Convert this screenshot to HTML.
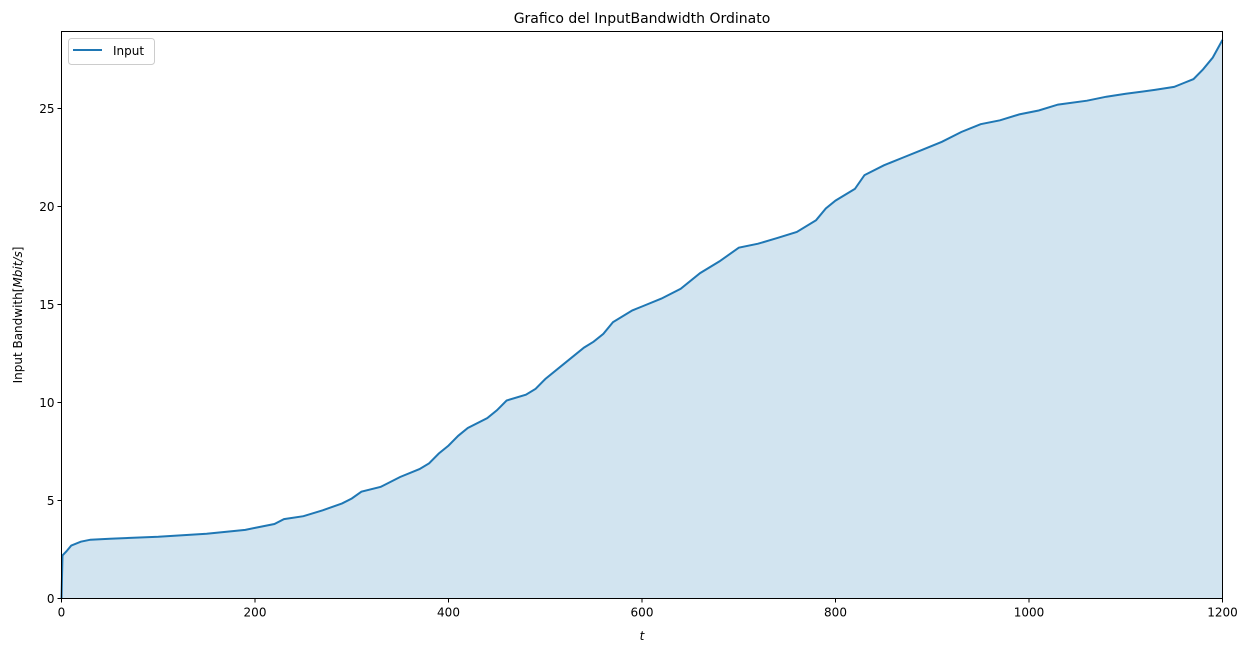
<!DOCTYPE html>
<html><head><meta charset="utf-8"><style>
body{margin:0;background:#fff;}
svg text{font-family:"DejaVu Sans","Liberation Sans",sans-serif;fill:#000;}
</style></head><body>
<svg id="chart" width="1250" height="651" xmlns="http://www.w3.org/2000/svg">
<rect width="1250" height="651" fill="#fff"/>
<text x="642" y="23" font-size="14" text-anchor="middle">Grafico del InputBandwidth Ordinato</text>
<g id="plot"></g>
<text x="642" y="640" font-size="12" font-style="italic" text-anchor="middle">t</text>
<text transform="translate(22,315) rotate(-90)" font-size="12" text-anchor="middle">Input Bandwith[<tspan font-style="italic">Mbit/s</tspan>]</text>
<g>
<rect x="68.5" y="38.5" width="86" height="26" rx="3" fill="#fff" stroke="#ccc"/>
<line x1="73" y1="50" x2="102" y2="50" stroke="#1f77b4" stroke-width="2"/>
<text x="113" y="55" font-size="12">Input</text>
</g>
</svg>
<script>
const tValues=[0,1,5,10,20,30,50,100,150,190,200,220,230,250,270,290,300,310,330,350,370,380,390,400,410,420,440,450,460,480,490,500,520,540,550,560,570,590,600,620,640,660,680,700,720,740,760,780,790,800,820,830,850,870,890,910,930,950,970,990,1010,1030,1060,1080,1100,1130,1150,1160,1170,1180,1190,1200];
const bwValues=[0,2.2,2.4,2.7,2.9,3.0,3.05,3.15,3.3,3.5,3.6,3.8,4.05,4.2,4.5,4.85,5.1,5.45,5.7,6.2,6.6,6.9,7.4,7.8,8.3,8.7,9.2,9.6,10.1,10.4,10.7,11.2,12.0,12.8,13.1,13.5,14.1,14.7,14.9,15.3,15.8,16.6,17.2,17.9,18.1,18.4,18.7,19.3,19.9,20.3,20.9,21.6,22.1,22.5,22.9,23.3,23.8,24.2,24.4,24.7,24.9,25.2,25.4,25.6,25.75,25.95,26.1,26.3,26.5,27.0,27.6,28.5];
const xTicks=[0,200,400,600,800,1000,1200];
const yTicks=[0,5,10,15,20,25];
const L=61.5,R=1222.5,B=598.5,T=31.5;
const X=v=>L+(v/1200)*(R-L);
const Y=v=>B-v*19.6;
const NS="http://www.w3.org/2000/svg";
const g=document.getElementById('plot');
function mk(tag,attrs){const e=document.createElementNS(NS,tag);for(const k in attrs)e.setAttribute(k,attrs[k]);g.appendChild(e);return e;}
let pts=tValues.map((t,i)=>X(t).toFixed(1)+','+Y(bwValues[i]).toFixed(1));
const area=mk('polygon',{points:X(0)+','+B+' '+pts.join(' ')+' '+X(1200)+','+B,fill:'#1f77b4','fill-opacity':'0.2'});


const line=mk('polyline',{points:pts.join(' '),fill:'none',stroke:'#1f77b4','stroke-width':'2'});


const frame=mk('rect',{x:L,y:T,width:R-L,height:B-T,fill:'none',stroke:'#000','stroke-width':'1'});


xTicks.forEach(v=>{
 const tk=mk('line',{x1:X(v),x2:X(v),y1:B,y2:B+4,stroke:'#000'});
 
 
 const tx=mk('text',{x:X(v),y:B+18,'font-size':'12','text-anchor':'middle'});
 tx.textContent=v;
 
 
});
yTicks.forEach(v=>{
 const tk=mk('line',{x1:L-4,x2:L,y1:Y(v),y2:Y(v),stroke:'#000'});
 
 
 const tx=mk('text',{x:L-7,y:Y(v)+4.5,'font-size':'12','text-anchor':'end'});
 tx.textContent=v;
 
 
});
</script>
</body></html>
